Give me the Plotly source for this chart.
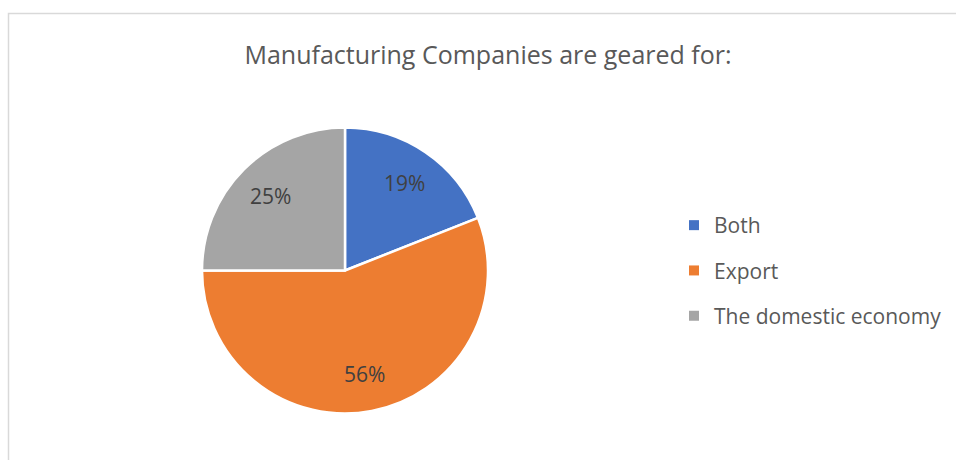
import math
import plotly.graph_objects as go

# Share of manufacturing companies by market orientation
categories = ["Both", "Export", "The domestic economy"]
shares = [19, 56, 25]
colors = ["#4472C4", "#ED7D31", "#A5A5A5"]

FONT = "Open Sans, Calibri, sans-serif"
W, H = 956, 460

# Pie placement in pixels
CX, CY, R = 345, 270.5, 143

fig = go.Figure()

fig.add_trace(go.Pie(
    labels=categories,
    values=shares,
    sort=False,
    direction="clockwise",
    rotation=0,
    marker=dict(colors=colors, line=dict(color="white", width=2.5)),
    textinfo="none",
    showlegend=False,
    hoverinfo="label+percent",
    domain=dict(x=[(CX - R) / W, (CX + R) / W],
                y=[(H - CY - R) / H, (H - CY + R) / H]),
))

# Percentage labels at each slice's mid-angle, about 3/4 of the radius out
total = sum(shares)
annotations = []
start = 0.0
for v in shares:
    mid = (start + v / 2) / total * 2 * math.pi
    start += v
    px = CX + 0.74 * R * math.sin(mid)
    py = CY - 0.74 * R * math.cos(mid)
    annotations.append(dict(
        text=f"{round(v / total * 100)}%",
        x=px / W, y=1 - py / H, xref="paper", yref="paper",
        xanchor="center", yanchor="middle", showarrow=False,
        font=dict(family=FONT, size=21, color="#404040"),
    ))

# Legend entries, one per category so they can be spaced apart
for name, col in zip(categories, colors):
    fig.add_trace(go.Scatter(
        x=[None], y=[None], mode="markers", name=name,
        legendgroup=name,
        marker=dict(symbol="square", size=10, color=col),
    ))

fig.update_layout(
    width=W, height=H,
    margin=dict(l=0, r=0, t=0, b=0),
    paper_bgcolor="white",
    plot_bgcolor="white",
    xaxis=dict(visible=False),
    yaxis=dict(visible=False),
    title=dict(
        text="Manufacturing Companies are geared for:",
        font=dict(family=FONT, size=25, color="#595959"),
        x=488 / W, xanchor="center",
        y=1 - 55 / H, yanchor="middle",
    ),
    legend=dict(
        x=674 / W, xanchor="left",
        y=1 - 205 / H, yanchor="top",
        font=dict(family=FONT, size=21, color="#595959"),
        traceorder="grouped",
        tracegroupgap=15,
        bgcolor="rgba(0,0,0,0)",
    ),
    annotations=annotations,
    shapes=[dict(
        type="rect", xref="paper", yref="paper",
        x0=8.5 / W, x1=1.05, y0=-0.05, y1=1 - 13.5 / H,
        line=dict(color="#d9d9d9", width=1.5),
        fillcolor="rgba(0,0,0,0)", layer="below",
    )],
)

fig.write_html("out.html")
